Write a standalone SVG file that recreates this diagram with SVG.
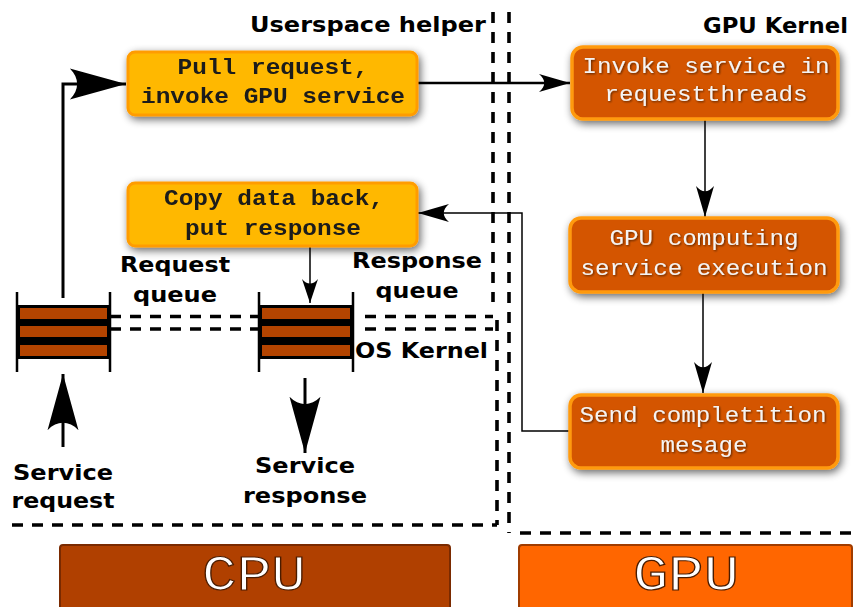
<svg xmlns="http://www.w3.org/2000/svg" width="857" height="607" viewBox="0 0 857 607">
  <defs>
    <filter id="shadow" x="-20%" y="-40%" width="140%" height="190%">
      <feGaussianBlur in="SourceAlpha" stdDeviation="4"/>
      <feOffset dx="2" dy="3" result="b"/>
      <feComponentTransfer><feFuncA type="linear" slope="0.6"/></feComponentTransfer>
      <feMerge><feMergeNode/><feMergeNode in="SourceGraphic"/></feMerge>
    </filter>
    <filter id="txtshadow" x="-5%" y="-30%" width="110%" height="160%">
      <feGaussianBlur in="SourceAlpha" stdDeviation="0.8"/>
      <feOffset dx="1" dy="1"/>
      <feComponentTransfer><feFuncA type="linear" slope="0.6"/></feComponentTransfer>
      <feMerge><feMergeNode/><feMergeNode in="SourceGraphic"/></feMerge>
    </filter>
    <marker id="big" markerUnits="userSpaceOnUse" markerWidth="60" markerHeight="36" viewBox="-60 -18 62 36" refX="0" refY="0" orient="auto">
      <path d="M0,0 L-58,-16 C-48,-6 -48,6 -58,16 Z" fill="#000"/>
    </marker>
    <marker id="med" markerUnits="userSpaceOnUse" markerWidth="36" markerHeight="22" viewBox="-34 -11 36 22" refX="0" refY="0" orient="auto">
      <path d="M0,0 L-31,-9 C-24,-3 -24,3 -31,9 Z" fill="#000"/>
    </marker>
    <marker id="sm" markerUnits="userSpaceOnUse" markerWidth="30" markerHeight="20" viewBox="-28 -10 30 20" refX="0" refY="0" orient="auto">
      <path d="M0,0 L-24,-8 C-18,-3 -18,3 -24,8 Z" fill="#000"/>
    </marker>
  </defs>
  <style>
    .dash { fill: none; stroke: #000; stroke-width: 3.6; stroke-dasharray: 11 9; }
    .ybox { fill: #ffb800; stroke: #ff9c00; stroke-width: 3; }
    .obox { fill: #d45500; stroke: #ff9a10; stroke-width: 3.5; }
    .btxt { font-family: "Liberation Mono", "Courier New", monospace; font-weight: bold; font-size: 22px; fill: #1a1a1a; text-anchor: middle; }
    .wtxt { font-family: "Liberation Mono", "Courier New", monospace; font-size: 22px; fill: #f4f4f4; text-anchor: middle; }
    .lbl { font-family: "DejaVu Sans", "Liberation Sans", sans-serif; font-weight: bold; font-size: 22px; fill: #000; }
    .mid { text-anchor: middle; }
    .conn { fill: none; stroke: #000; }
    .big { font-family: "Liberation Mono", "Courier New", monospace; font-size: 50px; fill: #fff; stroke: #4a1c00; stroke-width: 1.2; text-anchor: middle; }
    .bar { fill: #b44400; }
    .rail { fill: none; stroke: #000; stroke-width: 2.5; }
  </style>

  <rect width="857" height="607" fill="#fff"/>

  <!-- region boundaries -->
  <g id="regions">
    <path class="dash" d="M493,12 V302"/>
    <path class="dash" d="M509,12 V533"/>
    <path class="dash" d="M497,320 V525"/>
    <path class="dash" d="M110,316.5 H258 M365,316.5 H493"/>
    <path class="dash" d="M110,329 H258 M365,329 H493"/>
    <path class="dash" d="M12,525 H497"/>
    <path class="dash" d="M520,533 H857"/>
    <text class="lbl" x="250" y="32" textLength="236" lengthAdjust="spacingAndGlyphs">Userspace helper</text>
    <text class="lbl" x="703" y="33" textLength="145" lengthAdjust="spacingAndGlyphs">GPU Kernel</text>
    <text class="lbl" x="355" y="358" textLength="133" lengthAdjust="spacingAndGlyphs">OS Kernel</text>
  </g>

  <!-- connectors -->
  <g id="connectors">
    <path class="conn" stroke-width="3" d="M63,298 V84 H126" marker-end="url(#big)"/>
    <path class="conn" stroke-width="2.5" d="M417,83 H570" marker-end="url(#med)"/>
    <path class="conn" stroke-width="1.5" d="M705,120 V217" marker-end="url(#med)"/>
    <path class="conn" stroke-width="1.5" d="M703,293 V393" marker-end="url(#med)"/>
    <path class="conn" stroke-width="1.5" d="M570,431 H522 V213 H418" marker-end="url(#med)"/>
    <path class="conn" stroke-width="1.5" d="M310,246 V303" marker-end="url(#sm)"/>
    <path class="conn" stroke-width="3" d="M63,447 V374" marker-end="url(#big)"/>
    <path class="conn" stroke-width="3" d="M305,378 V453" marker-end="url(#big)"/>
  </g>

  <g id="pull-request" filter="url(#shadow)">
    <rect class="ybox" x="128" y="52" width="289" height="63" rx="7"/>
    <text class="btxt" x="273" y="74" textLength="191" lengthAdjust="spacingAndGlyphs">Pull request,</text>
    <text class="btxt" x="273" y="103" textLength="264" lengthAdjust="spacingAndGlyphs">invoke GPU service</text>
  </g>

  <g id="copy-back" filter="url(#shadow)">
    <rect class="ybox" x="128" y="183" width="289" height="63" rx="7"/>
    <text class="btxt" x="274" y="205" textLength="220" lengthAdjust="spacingAndGlyphs">Copy data back,</text>
    <text class="btxt" x="273" y="235" textLength="176" lengthAdjust="spacingAndGlyphs">put response</text>
  </g>

  <g id="invoke-service" filter="url(#shadow)">
    <rect class="obox" x="572" y="47" width="266" height="72" rx="11"/>
    <g filter="url(#txtshadow)">
      <text class="wtxt" x="706" y="73" textLength="247" lengthAdjust="spacingAndGlyphs">Invoke service in</text>
      <text class="wtxt" x="706" y="101" textLength="203" lengthAdjust="spacingAndGlyphs">requestthreads</text>
    </g>
  </g>

  <g id="gpu-computing" filter="url(#shadow)">
    <rect class="obox" x="570" y="218" width="268" height="74" rx="11"/>
    <g filter="url(#txtshadow)">
      <text class="wtxt" x="704" y="245" textLength="189" lengthAdjust="spacingAndGlyphs">GPU computing</text>
      <text class="wtxt" x="704" y="275" textLength="247" lengthAdjust="spacingAndGlyphs">service execution</text>
    </g>
  </g>

  <g id="send-completion" filter="url(#shadow)">
    <rect class="obox" x="570" y="395" width="268" height="73" rx="11"/>
    <g filter="url(#txtshadow)">
      <text class="wtxt" x="703" y="422" textLength="247" lengthAdjust="spacingAndGlyphs">Send completition</text>
      <text class="wtxt" x="704" y="452" textLength="87" lengthAdjust="spacingAndGlyphs">mesage</text>
    </g>
  </g>

  <g id="request-queue">
    <path class="rail" d="M17,292 V372 M110,292 V372"/>
    <rect x="17" y="305" width="93" height="54" fill="#000"/>
    <rect class="bar" x="20" y="308" width="87" height="11"/>
    <rect class="bar" x="20" y="326" width="87" height="11"/>
    <rect class="bar" x="20" y="345" width="87" height="11"/>
    <text class="lbl mid" x="175" y="272" textLength="110" lengthAdjust="spacingAndGlyphs">Request</text>
    <text class="lbl mid" x="175" y="302" textLength="84" lengthAdjust="spacingAndGlyphs">queue</text>
  </g>

  <g id="response-queue">
    <path class="rail" d="M259,292 V372 M353,292 V372"/>
    <rect x="259" y="305" width="94" height="54" fill="#000"/>
    <rect class="bar" x="262" y="308" width="88" height="11"/>
    <rect class="bar" x="262" y="326" width="88" height="11"/>
    <rect class="bar" x="262" y="345" width="88" height="11"/>
    <text class="lbl mid" x="417" y="268" textLength="130" lengthAdjust="spacingAndGlyphs">Response</text>
    <text class="lbl mid" x="417" y="298" textLength="83" lengthAdjust="spacingAndGlyphs">queue</text>
  </g>

  <g id="service-request">
    <text class="lbl mid" x="63" y="480" textLength="100" lengthAdjust="spacingAndGlyphs">Service</text>
    <text class="lbl mid" x="63" y="508" textLength="103" lengthAdjust="spacingAndGlyphs">request</text>
  </g>

  <g id="service-response">
    <text class="lbl mid" x="305" y="473" textLength="100" lengthAdjust="spacingAndGlyphs">Service</text>
    <text class="lbl mid" x="305" y="503" textLength="124" lengthAdjust="spacingAndGlyphs">response</text>
  </g>

  <g id="cpu">
    <rect x="60" y="545" width="390" height="70" rx="3" fill="#b04000" stroke="#7a2a00" stroke-width="2"/>
    <text class="big" x="254" y="590" textLength="104" lengthAdjust="spacingAndGlyphs">CPU</text>
  </g>

  <g id="gpu">
    <rect x="519" y="545" width="333" height="70" rx="3" fill="#ff6600" stroke="#a03c00" stroke-width="2"/>
    <text class="big" x="686" y="590" textLength="106" lengthAdjust="spacingAndGlyphs">GPU</text>
  </g>
</svg>
